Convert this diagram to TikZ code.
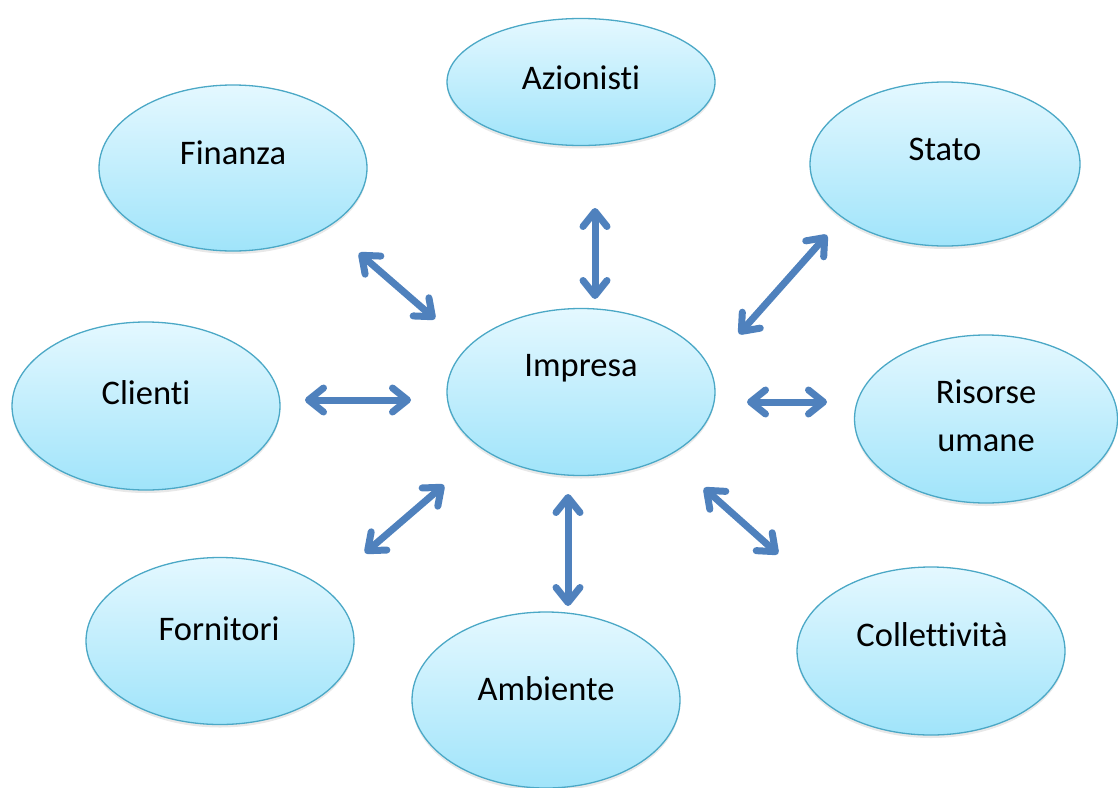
\documentclass[tikz,border=0pt]{standalone}
\usepackage{fontspec}
\setmainfont{Carlito}[Ligatures={NoCommon}]
\usetikzlibrary{arrows.meta,shadows,shapes.geometric}
\definecolor{bubtop}{RGB}{228,248,255}
\definecolor{bubbot}{RGB}{160,228,250}
\definecolor{bubedge}{RGB}{75,168,198}
\definecolor{arrowblue}{RGB}{79,129,189}
\tikzset{
  bubble/.style={ellipse, draw=bubedge, line width=1.3pt, top color=bubtop, bottom color=bubbot,
    drop shadow={opacity=0.18, shadow xshift=0pt, shadow yshift=-3pt},
    inner sep=0pt, minimum width=268pt, minimum height=166pt},
  word/.style={anchor=base, font=\fontsize{34.5}{40}\selectfont, inner sep=0pt},
  link/.style={arrowblue, line width=7pt, line cap=round,
    {Straight Barb[length=15pt,width=24pt,line cap=round,line join=round]}-{Straight Barb[length=15pt,width=24pt,line cap=round,line join=round]}}
}
\begin{document}
\begin{tikzpicture}[x=1pt,y=-1pt]
\useasboundingbox (0,0) rectangle (1118,787);
% stakeholder bubbles
\node[bubble, minimum height=127pt] (azi) at (581,82) {};
\node[bubble] (fin) at (233,168) {};
\node[bubble, minimum width=270pt, minimum height=164pt] (sta) at (945,164) {};
\node[bubble, minimum height=168pt] (cli) at (146,406) {};
\node[bubble, minimum height=167pt] (imp) at (581,392) {};
\node[bubble, minimum width=263pt, minimum height=168pt] (ris) at (986,419) {};
\node[bubble, minimum height=167pt] (for) at (220,641) {};
\node[bubble, minimum height=176pt] (amb) at (546,700) {};
\node[bubble, minimum height=168pt] (col) at (931,651) {};
% labels
\node[word] (tazi) at (581,89) {Azionisti};
\node[word] (tfin) at (233,164) {Finanza};
\node[word] (tsta) at (945,160) {Stato};
\node[word] (tcli) at (146,404) {Clienti};
\node[word] (timp) at (581,376) {Impresa};
\node[word] (tris1) at (986,403) {Risorse};
\node[word] (tris2) at (986,451) {umane};
\node[word] (tfor) at (219,640) {Fornitori};
\node[word] (tamb) at (546,700) {Ambiente};
\node[word] (tcol) at (932,646) {Collettività};
% arrow end points
\coordinate (f1) at (359,253); \coordinate (f2) at (435,319);
\coordinate (a1) at (595,208); \coordinate (a2) at (595,299);
\coordinate (s1) at (827,235); \coordinate (s2) at (739,334);
\coordinate (c1) at (305,400); \coordinate (c2) at (411,400);
\coordinate (r1) at (747,402); \coordinate (r2) at (827,402);
\coordinate (o1) at (365,553); \coordinate (o2) at (444,485);
\coordinate (m1) at (568,494); \coordinate (m2) at (568,606);
\coordinate (k1) at (704,488); \coordinate (k2) at (778,554);
% two-way relations with the firm
\draw[link] (f1) -- (f2);
\draw[link] (a1) -- (a2);
\draw[link] (s1) -- (s2);
\draw[link] (c1) -- (c2);
\draw[link] (r1) -- (r2);
\draw[link] (o1) -- (o2);
\draw[link] (m1) -- (m2);
\draw[link] (k1) -- (k2);
\end{tikzpicture}
\end{document}
